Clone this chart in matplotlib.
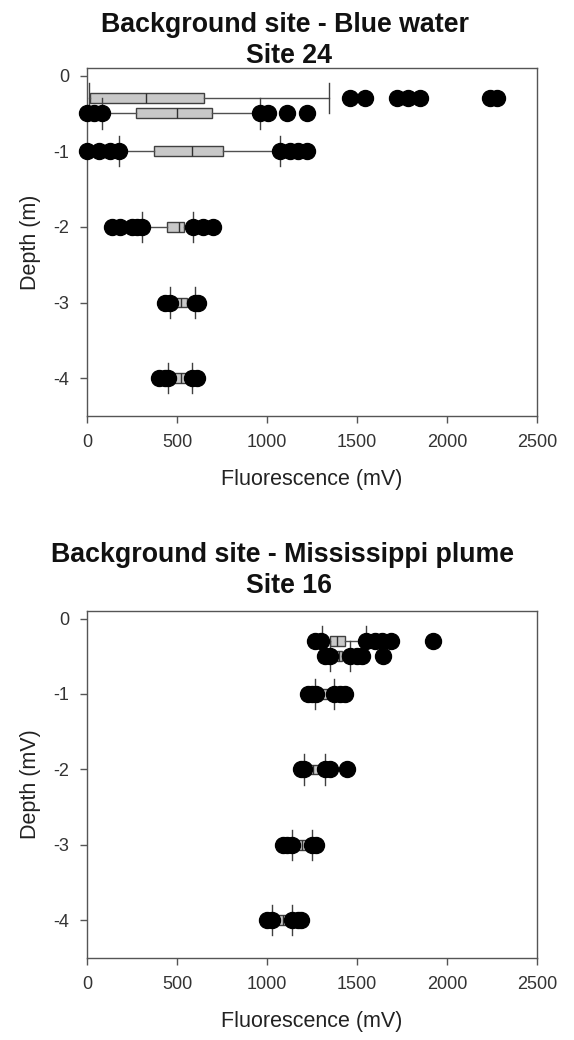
import numpy as np
from matplotlib import pyplot as plt

plt.rcParams['font.family'] = ['Liberation Sans', 'DejaVu Sans']
plt.rcParams['axes.unicode_minus'] = False

depths = [-0.3, -0.5, -1, -2, -3, -4]

# Site 24 (blue water) summary stats, fluorescence in mV
s24_q1 = [17, 272, 372, 444, 483, 483]
s24_med = [328, 500, 583, 511, 522, 522]
s24_q3 = [650, 694, 756, 539, 556, 561]
s24_lo = [10, 83, 178, 306, 461, 450]
s24_hi = [1344, 961, 1072, 589, 600, 583]
s24_out = [
    [1461, 1544, 1722, 1783, 1850, 2240, 2280],
    [0, 40, 83, 961, 1005, 1111, 1222],
    [0, 67, 128, 178, 1072, 1128, 1172, 1222],
    [139, 183, 250, 280, 306, 589, 644, 700],
    [433, 461, 600, 617],
    [400, 433, 450, 583, 611],
]

# Site 16 (Mississippi plume)
s16_q1 = [1350, 1389, 1305, 1233, 1150, 1061]
s16_med = [1389, 1400, 1333, 1256, 1194, 1089]
s16_q3 = [1433, 1417, 1367, 1283, 1228, 1111]
s16_lo = [1306, 1350, 1267, 1205, 1139, 1028]
s16_hi = [1550, 1461, 1372, 1320, 1250, 1139]
s16_out = [
    [1267, 1300, 1550, 1600, 1640, 1690, 1922],
    [1322, 1350, 1461, 1500, 1525, 1644],
    [1228, 1250, 1270, 1372, 1405, 1433],
    [1189, 1205, 1320, 1350, 1444],
    [1089, 1110, 1139, 1250, 1272],
    [1000, 1028, 1139, 1170, 1189],
]

xticks = [0, 500, 1000, 1500, 2000, 2500]
yticks = [0, -1, -2, -3, -4]


def make_stats(q1, med, q3, lo, hi, out):
    return [dict(q1=a, med=b, q3=c, whislo=d, whishi=e, fliers=f)
            for a, b, c, d, e, f in zip(q1, med, q3, lo, hi, out)]


def draw_panel(ax, stats, ylabel):
    parts = ax.bxp(stats, positions=depths, widths=0.13, capwidths=0.4,
                   orientation='horizontal', patch_artist=True, manage_ticks=False,
                   boxprops=dict(facecolor='#c8c8c8', edgecolor='#404040', linewidth=1),
                   medianprops=dict(color='#303030', linewidth=1),
                   whiskerprops=dict(color='#505050', linewidth=1),
                   capprops=dict(color='#404040', linewidth=1),
                   flierprops=dict(marker='o', markerfacecolor='black', markeredgecolor='black',
                                   markersize=11.5, zorder=4))
    # points sitting on 0 should not be cut by the spine
    for fl in parts['fliers']:
        fl.set_clip_on(False)
    ax.set_xlim(0, 2500)
    ax.set_ylim(-4.5, 0.1)
    ax.set_xticks(xticks)
    ax.set_yticks(yticks)
    ax.set_yticklabels([str(t) for t in yticks])
    ax.tick_params(direction='out', length=5, width=1, color='#555555',
                   labelsize=13, labelcolor='#333333', pad=8)
    for sp in ax.spines.values():
        sp.set_color('#555555')
        sp.set_linewidth(1)
    ax.set_xlabel('Fluorescence (mV)', fontsize=15.5, color='#222222', labelpad=13)
    ax.set_ylabel(ylabel, fontsize=15.5, color='#222222', labelpad=9)


fig = plt.figure(figsize=(5.74, 10.4), dpi=100)
ax1 = fig.add_axes([87 / 574, 1 - 416 / 1040, 450 / 574, 348 / 1040])
ax2 = fig.add_axes([87 / 574, 1 - 958 / 1040, 450 / 574, 347 / 1040])

draw_panel(ax1, make_stats(s24_q1, s24_med, s24_q3, s24_lo, s24_hi, s24_out), 'Depth (m)')
draw_panel(ax2, make_stats(s16_q1, s16_med, s16_q3, s16_lo, s16_hi, s16_out), 'Depth (mV)')

title_kw = dict(ha='center', va='baseline', fontsize=19.3, fontweight='bold', color='#111111')
fig.text(0.497, 1 - 32 / 1040, 'Background site - Blue water', **title_kw)
fig.text(0.503, 1 - 63 / 1040, 'Site 24', **title_kw)
fig.text(0.492, 1 - 562 / 1040, 'Background site - Mississippi plume', **title_kw)
fig.text(0.503, 1 - 593 / 1040, 'Site 16', **title_kw)

plt.savefig('out.png', dpi=100)
